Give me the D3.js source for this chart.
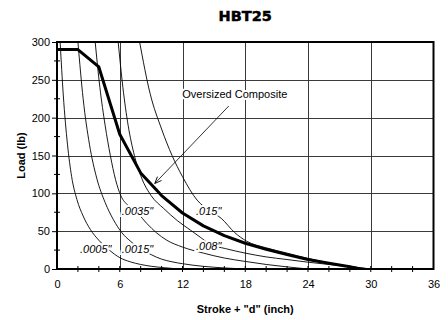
<!DOCTYPE html>
<html>
<head>
<meta charset="utf-8">
<script src="https://cdn.jsdelivr.net/npm/d3@7"></script>
<style>
  html, body { margin: 0; padding: 0; background: #fff; }
  svg { display: block; }
</style>
</head>
<body>
<svg id="chart" width="448" height="320"></svg>
<script>
// Axis ticks
const xTickValues = [0, 6, 12, 18, 24, 30, 36];
const yTickValues = [0, 50, 100, 150, 200, 250, 300];

// Oversized composite load curve (stroke in inch, load in lb)
const compositeStroke = [0, 2, 4, 6, 8, 10, 12, 14, 16, 18, 20, 22, 24, 26, 28, 29];
const compositeLoad   = [290, 290, 267, 178, 127, 97, 74, 57, 44, 34, 26, 19, 12.5, 7.5, 3, 0];

// Thin curves, one per setting: [stroke, load]
const curve0005 = [[0.3,300],[0.6,230],[1.0,165],[1.4,122],[1.9,92],[2.5,70],[3.2,52],[4.0,38],[5.0,25],[6.0,15],[7,9.5],[8,6],[9,3.6],[10,2],[11,0.8],[12,0]];
const curve0015 = [[2.0,300],[2.5,225],[3.1,165],[3.8,120],[4.6,88],[5.4,65],[6.2,48],[7.0,37],[8.0,27],[9.0,19],[10,13],[11,9.5],[12,7],[14,3.5],[16,1.4],[18,0]];
const curve0035 = [[3.65,300],[4.1,240],[4.6,190],[5.1,150],[5.6,118],[6.1,97],[6.8,84],[7.7,74],[8.6,60],[9.5,48],[10.5,38],[12,29],[14,21],[16,14.5],[18,10],[20,6],[22,2.8],[24,0]];
const curve008  = [[5.85,300],[6.3,240],[6.8,190],[7.4,150],[8.1,120],[9.0,97],[10.2,80],[11.5,64],[12.8,51],[13.7,42],[14.6,33],[16.1,27],[18,21],[20,16],[22,12.5],[24,9],[26,6],[28,3],[30,0]];
const curve015  = [[7.9,300],[8.9,232],[10,185],[11,150],[12,122],[13.4,91],[14.6,77],[15.7,67],[17,48],[18.1,37],[20,28],[22,21],[24,14],[26,8],[28,3.5],[30,0]];

const seriesCurves = [curve0005, curve0015, curve0035, curve008, curve015];
const seriesNames  = ['.0005"', '.0015"', '.0035"', '.008"', '.015"'];
const labelStroke  = [3.7, 7.7, 7.7, 14.5, 14.5];
const labelLoad    = [27, 27, 77, 30, 77];

// Annotation
const annotationText = 'Oversized Composite';
const annotationTextAt = [17.0, 226];
const annotationTip = [9.35, 113];

const svg = d3.select('#chart');
const plot = { left: 57, right: 433.5, top: 42, bottom: 269 };

const x = d3.scaleLinear().domain([0, 36]).range([plot.left, plot.right]);
const y = d3.scaleLinear().domain([0, 300]).range([plot.bottom, plot.top]);

const font = '"Liberation Sans", Arial, sans-serif';

// Title
svg.append('text')
  .attr('x', (plot.left + plot.right) / 2)
  .attr('y', 21)
  .attr('text-anchor', 'middle')
  .attr('font-family', '"DejaVu Sans", sans-serif')
  .attr('font-weight', 900)
  .attr('font-size', 14.5)
  .attr('stroke', '#000').attr('stroke-width', 0.5)
  .attr('fill', '#000')
  .text('HBT25');

// Grid lines
const grid = svg.append('g').attr('stroke', '#3a3a3a').attr('stroke-width', 1);
grid.selectAll('line.v')
  .data(xTickValues.filter(v => v > 0 && v < 36))
  .join('line')
  .attr('x1', d => Math.round(x(d)) + 0.5).attr('x2', d => Math.round(x(d)) + 0.5)
  .attr('y1', plot.top).attr('y2', plot.bottom);
grid.selectAll('line.h')
  .data(yTickValues.filter(v => v > 0 && v < 300))
  .join('line')
  .attr('y1', d => Math.round(y(d)) + 0.5).attr('y2', d => Math.round(y(d)) + 0.5)
  .attr('x1', plot.left).attr('x2', plot.right);

// Plot frame
svg.append('rect')
  .attr('x', plot.left).attr('y', plot.top)
  .attr('width', plot.right - plot.left).attr('height', plot.bottom - plot.top)
  .attr('fill', 'none').attr('stroke', '#000').attr('stroke-width', 2);

// Axes
const xAxis = d3.axisBottom(x).tickValues(xTickValues).tickSize(0).tickPadding(11);
const gx = svg.append('g').attr('transform', `translate(0,${plot.bottom})`).call(xAxis);
gx.select('.domain').remove();
gx.selectAll('text').attr('font-family', font).attr('font-size', 11).attr('fill', '#000');

const yAxis = d3.axisLeft(y).tickValues(yTickValues).tickSize(5).tickPadding(2);
const gy = svg.append('g').attr('transform', `translate(${plot.left},0)`).call(yAxis);
gy.select('.domain').remove();
gy.selectAll('line').attr('stroke', '#000');
gy.selectAll('text').attr('font-family', font).attr('font-size', 11).attr('fill', '#000');

// Minor ticks
const minorX = d3.range(2, 36, 2);
svg.append('g').selectAll('line')
  .data(minorX).join('line')
  .attr('x1', d => x(d)).attr('x2', d => x(d))
  .attr('y1', plot.bottom - 3).attr('y2', plot.bottom + 3)
  .attr('stroke', '#000').attr('stroke-width', 1);
const minorY = d3.range(25, 300, 50);
svg.append('g').selectAll('line')
  .data(minorY).join('line')
  .attr('y1', d => y(d)).attr('y2', d => y(d))
  .attr('x1', plot.left - 3).attr('x2', plot.left + 3)
  .attr('stroke', '#000').attr('stroke-width', 1);

// Axis titles
svg.append('text')
  .attr('x', (plot.left + plot.right) / 2).attr('y', 313)
  .attr('text-anchor', 'middle')
  .attr('font-family', font).attr('font-weight', 'bold').attr('font-size', 11)
  .text('Stroke + "d" (inch)');
svg.append('text')
  .attr('transform', `translate(25,${(plot.top + plot.bottom) / 2}) rotate(-90)`)
  .attr('text-anchor', 'middle')
  .attr('font-family', font).attr('font-weight', 'bold').attr('font-size', 11)
  .text('Load (lb)');

// Curves
svg.append('clipPath').attr('id', 'plotclip')
  .append('rect').attr('x', plot.left).attr('y', plot.top)
  .attr('width', plot.right - plot.left).attr('height', plot.bottom - plot.top);

const smooth = d3.line().x(d => x(d[0])).y(d => y(d[1])).curve(d3.curveMonotoneX);
const straight = d3.line().x(d => x(d[0])).y(d => y(d[1]));
const curves = svg.append('g').attr('clip-path', 'url(#plotclip)');
curves.selectAll('path.thin')
  .data(seriesCurves).join('path')
  .attr('d', smooth)
  .attr('fill', 'none').attr('stroke', '#000').attr('stroke-width', 0.9);

// Composite: straight segments between the measured points
const composite = compositeStroke.map((s, i) => [s, compositeLoad[i]]);
curves.append('path')
  .datum(composite)
  .attr('d', straight)
  .attr('fill', 'none').attr('stroke', '#000').attr('stroke-width', 3)
  .attr('stroke-linejoin', 'round');

// Curve labels
svg.append('g').selectAll('text')
  .data(seriesNames).join('text')
  .attr('x', (d, i) => x(labelStroke[i]))
  .attr('y', (d, i) => y(labelLoad[i]) + 4)
  .attr('text-anchor', 'middle')
  .attr('font-family', font).attr('font-style', 'italic').attr('font-size', 11)
  .attr('fill', '#000')
  .attr('stroke', '#fff').attr('stroke-width', 4).attr('paint-order', 'stroke')
  .text(d => d);

// Annotation with open arrowhead
svg.append('defs').append('marker')
  .attr('id', 'arrowhead').attr('viewBox', '0 0 10 10')
  .attr('refX', 9.5).attr('refY', 5)
  .attr('markerWidth', 8).attr('markerHeight', 8)
  .attr('markerUnits', 'userSpaceOnUse')
  .attr('orient', 'auto')
  .append('path').attr('d', 'M1,1.5 L9.5,5 L1,8.5')
  .attr('fill', 'none').attr('stroke', '#000').attr('stroke-width', 1.1);

svg.append('line')
  .attr('x1', x(annotationTextAt[0]) - 6).attr('y1', y(annotationTextAt[1]) + 8)
  .attr('x2', x(annotationTip[0])).attr('y2', y(annotationTip[1]))
  .attr('stroke', '#000').attr('stroke-width', 0.8)
  .attr('marker-end', 'url(#arrowhead)');

svg.append('text')
  .attr('x', x(annotationTextAt[0])).attr('y', y(annotationTextAt[1]))
  .attr('text-anchor', 'middle')
  .attr('font-family', font).attr('font-size', 11)
  .attr('fill', '#000')
  .attr('stroke', '#fff').attr('stroke-width', 4).attr('paint-order', 'stroke')
  .text(annotationText);
</script>
</body>
</html>
